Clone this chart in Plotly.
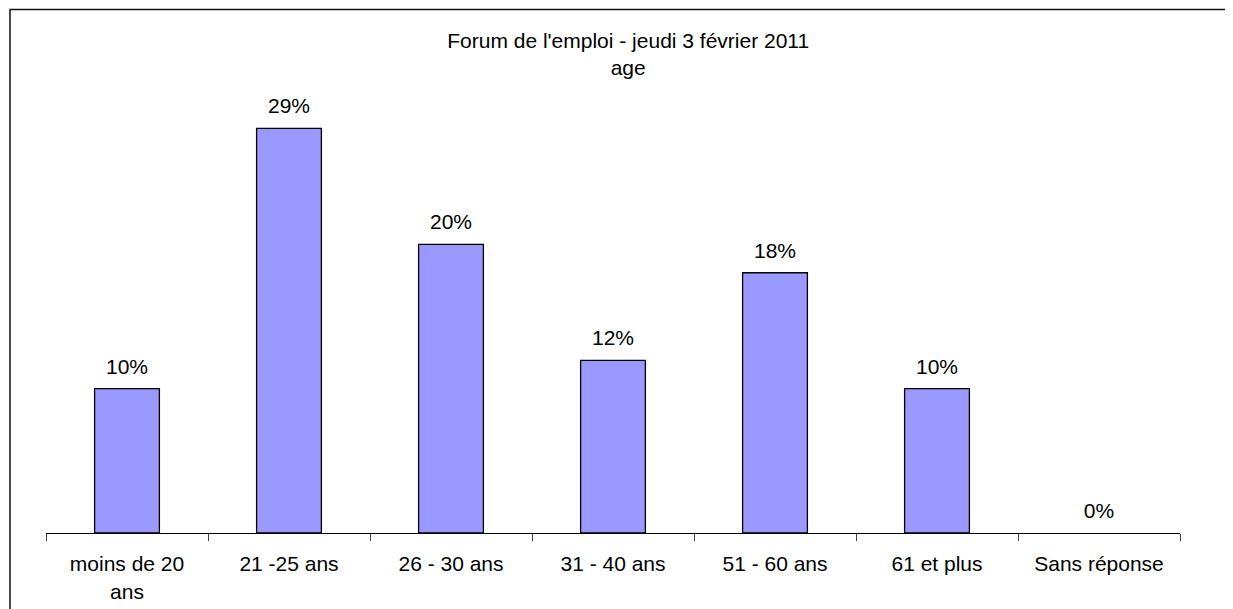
import plotly.graph_objects as go

categories = ["moins de 20<br>ans", "21 -25 ans", "26 - 30 ans", "31 - 40 ans",
              "51 - 60 ans", "61 et plus", "Sans réponse"]
values = [10.2, 28.6, 20.4, 12.2, 18.4, 10.2, 0.0]
title_lines = ["Forum de l'emploi - jeudi 3 février 2011", "age"]

FONT = "Liberation Sans, Arial, sans-serif"
FS = 21

fig = go.Figure()
fig.add_trace(go.Bar(
    x=categories, y=values, width=0.4,
    marker=dict(color="#9999FF",
                line=dict(color="black", width=[1.3 if v > 0 else 0 for v in values])),
    hoverinfo="skip", showlegend=False,
))
fig.add_trace(go.Scatter(
    x=categories, y=values, mode="markers+text",
    text=[f"{v:.0f}%" for v in values],
    textposition="top center",
    marker=dict(size=14, color="rgba(0,0,0,0)"),
    textfont=dict(family=FONT, size=FS, color="black"),
    hoverinfo="skip", showlegend=False, cliponaxis=False,
))

fig.update_layout(
    width=1233, height=609,
    margin=dict(l=38, r=61, t=37, b=84, autoexpand=False),
    paper_bgcolor="white", plot_bgcolor="white",
    font=dict(family=FONT, size=FS, color="black"),
    title=dict(text="<br>".join(title_lines), x=0.503, xanchor="center",
               y=0.934, yanchor="top", font=dict(family=FONT, size=FS, color="black")),
    bargap=0.6,
    shapes=[dict(type="rect", xref="paper", yref="paper",
                 x0=(10 - 46) / 1134, x1=1.3, y0=-0.5, y1=(533 - 9.5) / 488,
                 line=dict(color="#111111", width=1.5), fillcolor="rgba(0,0,0,0)",
                 layer="below")],
)
fig.update_xaxes(showline=True, linecolor="black", linewidth=1.3,
                 ticks="outside", ticklen=7, tickcolor="#444444", tickwidth=1,
                 tickson="boundaries", showgrid=False, automargin=False,
                 ticklabelstandoff=12,
                 tickfont=dict(family=FONT, size=FS, color="black"))
fig.update_yaxes(range=[0, 34.5], visible=False, showgrid=False, zeroline=False,
                 automargin=False)

fig.write_html("out.html")
